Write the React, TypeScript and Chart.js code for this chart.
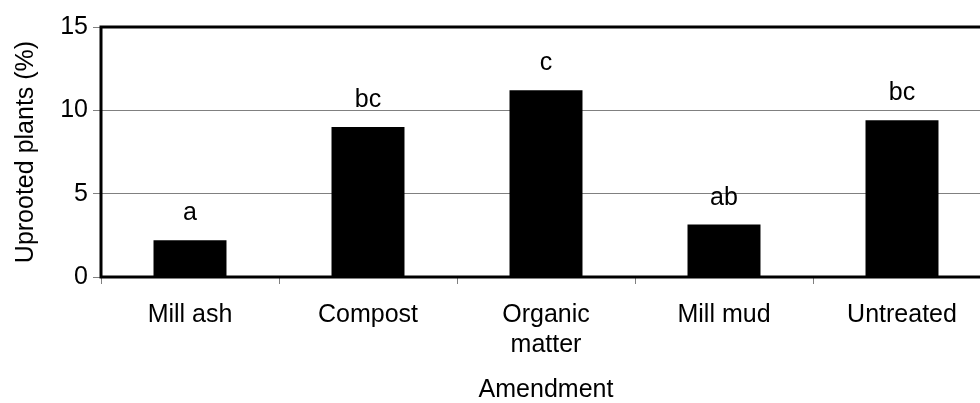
import React, { useEffect, useRef } from "react";
import { Chart, registerables } from "chart.js";

Chart.register(...registerables);

const categories: (string | string[])[] = ["Mill ash", "Compost", ["Organic", "matter"], "Mill mud", "Untreated"];
const uprooted: number[] = [2.2, 9.0, 11.2, 3.15, 9.4];
const letters: string[] = ["a", "bc", "c", "ab", "bc"];
const yTicks: number[] = [0, 5, 10, 15];

const FONT = "'Liberation Sans', Arial, Helvetica, sans-serif";
const FS = 25;

export default function App() {
  const ref = useRef<HTMLCanvasElement | null>(null);

  useEffect(() => {
    const canvas = ref.current;
    if (!canvas) return;

    const frame = {
      id: "frame",
      afterDraw(chart: any) {
        const { ctx, chartArea } = chart;
        ctx.save();
        ctx.strokeStyle = "#000";
        ctx.lineWidth = 3;
        ctx.strokeRect(chartArea.left, chartArea.top, chartArea.right - chartArea.left, chartArea.bottom - chartArea.top);
        ctx.restore();
      },
    };

    const letterLabels = {
      id: "letterLabels",
      afterDatasetsDraw(chart: any) {
        const { ctx } = chart;
        const meta = chart.getDatasetMeta(0);
        ctx.save();
        ctx.fillStyle = "#000";
        ctx.font = `${FS}px ${FONT}`;
        ctx.textAlign = "center";
        ctx.textBaseline = "alphabetic";
        meta.data.forEach((bar: any, i: number) => {
          ctx.fillText(letters[i], bar.x, bar.y - 20);
        });
        ctx.restore();
      },
    };

    const chart = new Chart(canvas, {
      type: "bar",
      data: {
        labels: categories as any,
        datasets: [
          {
            data: uprooted,
            backgroundColor: "#000",
            borderWidth: 0,
            barPercentage: 0.41,
            categoryPercentage: 1,
          },
        ],
      },
      options: {
        responsive: false,
        animation: false,
        events: [],
        layout: { padding: { top: 27, right: 9, bottom: 0, left: 0 } },
        plugins: {
          legend: { display: false },
          tooltip: { enabled: false },
          title: { display: false },
        },
        scales: {
          x: {
            offset: true,
            grid: {
              offset: true,
              drawOnChartArea: false,
              drawTicks: true,
              tickLength: 7,
              color: "#808080",
              lineWidth: 1,
            },
            border: { display: false },
            ticks: {
              color: "#000",
              font: { family: FONT, size: FS },
              padding: 16,
              maxRotation: 0,
              autoSkip: false,
            },
            title: {
              display: true,
              text: "Amendment",
              color: "#000",
              font: { family: FONT, size: FS },
              padding: { top: 0, bottom: -2 },
            },
            afterFit(scale: any) {
              scale.height = 126;
            },
          },
          y: {
            min: 0,
            max: 15,
            afterBuildTicks(scale: any) {
              scale.ticks = yTicks.map((v) => ({ value: v }));
            },
            grid: {
              color: "#808080",
              lineWidth: 1,
              tickLength: 8,
              drawTicks: true,
            },
            border: { display: false },
            ticks: {
              color: "#000",
              font: { family: FONT, size: FS },
              padding: 5,
            },
            title: {
              display: true,
              text: "Uprooted plants (%)",
              color: "#000",
              font: { family: FONT, size: FS },
              padding: { top: 11, bottom: 0 },
            },
            afterFit(scale: any) {
              scale.width = 101;
            },
          },
        },
      },
      plugins: [letterLabels, frame],
    });

    return () => chart.destroy();
  }, []);

  return (
    <div
      style={{
        position: "fixed",
        left: 0,
        top: 0,
        width: 980,
        height: 403,
        overflow: "hidden",
        background: "#fff",
      }}
    >
      <canvas ref={ref} width={1000} height={403} style={{ display: "block", width: 1000, height: 403 }} />
    </div>
  );
}
